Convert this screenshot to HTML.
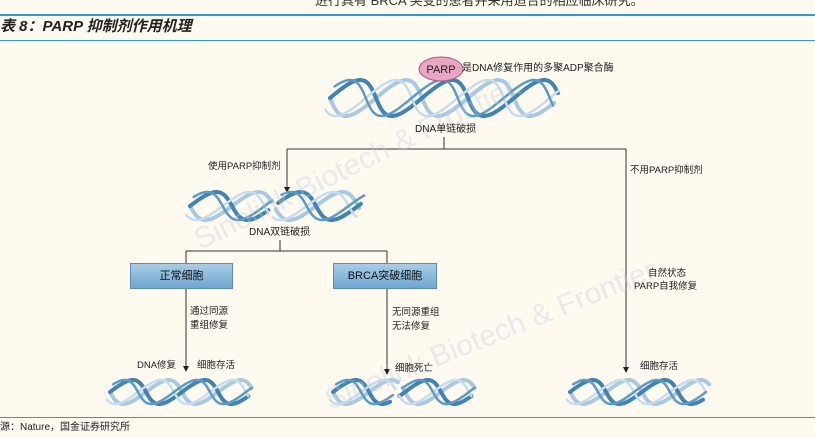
<!DOCTYPE html>
<html><head><meta charset="utf-8"><style>
html,body{margin:0;padding:0;}
body{width:815px;height:438px;background:#fffaf0;position:relative;overflow:hidden;font-family:"Liberation Sans","Noto Sans CJK SC",sans-serif;color:#222;}
.t{position:absolute;font-size:9.5px;white-space:nowrap;line-height:1;}
.box{position:absolute;height:24px;background:linear-gradient(#a9cde6,#6fa6cf);border:1px solid #5b8db8;font-size:11px;text-align:center;line-height:24px;color:#111;}
</style></head><body>
<div class="t" style="left:315px;top:-6px;font-size:13px;color:#333;">进行具有 BRCA 突变的患者并采用适合的相应临床研究。</div>
<div style="position:absolute;left:0;top:14px;width:815px;height:2px;background:#2e9bd6"></div>
<div class="t" style="left:0;top:19px;font-size:15px;font-weight:bold;font-style:italic;">表 8：PARP 抑制剂作用机理</div>
<div style="position:absolute;left:0;top:40px;width:815px;height:1px;background:#2e9bd6"></div>

<svg width="815" height="438" style="position:absolute;left:0;top:0" id="s">
<g stroke="#333" stroke-width="1" fill="none">
<line x1="444" y1="137" x2="444" y2="149"/>
<line x1="287" y1="149" x2="626" y2="149"/>
<line x1="287" y1="149" x2="287" y2="188"/>
<line x1="626" y1="149" x2="626" y2="368"/>
<line x1="280" y1="240" x2="280" y2="251"/>
<line x1="186" y1="251" x2="387" y2="251"/>
<line x1="186" y1="251" x2="186" y2="263"/>
<line x1="387" y1="251" x2="387" y2="263"/>
<line x1="186" y1="289" x2="186" y2="367"/>
<line x1="387" y1="289" x2="387" y2="370"/>
</g>
<g fill="#222">
<path d="M284 187 L290 187 L287 193 Z"/>
<path d="M623 367 L629 367 L626 373 Z"/>
<path d="M183 366 L189 366 L186 372 Z"/>
<path d="M384 369 L390 369 L387 375 Z"/>
</g>
<g id="dna"></g>
<ellipse cx="441" cy="69" rx="22" ry="12" fill="#e8a6c3" stroke="#b0537f" stroke-width="1"/>
<text x="441" y="73" font-size="11" text-anchor="middle" font-family="Liberation Sans" fill="#222">PARP</text>
<g font-family="Liberation Sans" font-size="30" fill="#bccbe0" opacity="0.35">
<text x="200" y="250" transform="rotate(-26 200 250)">Sinolink Biotech &amp; Frontier.</text>
<text x="330" y="410" transform="rotate(-22 330 410)">Sinolink Biotech &amp; Frontier.</text>
</g>
</svg>

<div class="t" style="left:462px;top:64px;font-size:10px;">是DNA修复作用的多聚ADP聚合酶</div>
<div class="t" style="left:415px;top:125px;font-size:10px;">DNA单链破损</div>
<div class="t" style="left:208px;top:162px;">使用PARP抑制剂</div>
<div class="t" style="left:630px;top:166px;">不用PARP抑制剂</div>
<div class="t" style="left:249px;top:228px;font-size:10px;">DNA双链破损</div>
<div class="box" style="left:130px;top:263px;width:101px;">正常细胞</div>
<div class="box" style="left:333px;top:263px;width:102px;">BRCA突破细胞</div>
<div class="t" style="left:190px;top:307px;">通过同源</div>
<div class="t" style="left:190px;top:321px;">重组修复</div>
<div class="t" style="left:392px;top:308px;">无同源重组</div>
<div class="t" style="left:392px;top:322px;">无法修复</div>
<div class="t" style="left:648px;top:269px;">自然状态</div>
<div class="t" style="left:634px;top:282px;">PARP自我修复</div>
<div class="t" style="left:137px;top:361px;">DNA修复</div>
<div class="t" style="left:197px;top:361px;">细胞存活</div>
<div class="t" style="left:395px;top:364px;">细胞死亡</div>
<div class="t" style="left:640px;top:362px;">细胞存活</div>

<div style="position:absolute;left:0;top:417px;width:815px;height:1px;background:#2e9bd6"></div>
<div class="t" style="left:0;top:423px;font-size:10px;">源：Nature，国金证券研究所</div>

<script>
(function(){
var g=document.getElementById('dna');var ns='http://www.w3.org/2000/svg';
function strand(x0,x1,y0,y1,P,ph,col,w,gap){
  var h=(y1-y0)/2,c=(y0+y1)/2,d='',first=true;
  for(var x=x0;x<=x1;x+=1){
    if(gap&&x>gap[0]&&x<gap[1]){first=true;continue;}
    var t=(x-x0)/P*2*Math.PI+ph;
    var y=c+h*Math.sin(t);
    var xs=x-(y-c)*0.4;
    d+=(first?'M':'L')+xs.toFixed(1)+' '+y.toFixed(1)+' ';first=false;
  }
  var p=document.createElementNS(ns,'path');
  p.setAttribute('d',d);p.setAttribute('fill','none');p.setAttribute('stroke',col);
  p.setAttribute('stroke-width',w);p.setAttribute('stroke-linecap','round');
  g.appendChild(p);
}
function helix(x0,x1,y0,y1,P,gap){
  strand(x0,x1,y0,y1,P,0,'#a9c9e2',4,gap);
  strand(x0,x1,y0,y1,P,Math.PI,'#3f84b5',4,gap);
  strand(x0,x1,y0,y1,P,0.7,'#c7dced',2.5,gap);
  strand(x0,x1,y0,y1,P,Math.PI+0.7,'#5d9bc7',2.5,gap);
}
helix(330,556,80,116,92,null);
helix(190,360,192,220,84,[270,277]);
helix(110,250,380,404,72,null);
helix(333,473,380,404,72,[394,401]);
helix(570,706,380,404,72,null);
})();
</script>
</body></html>
